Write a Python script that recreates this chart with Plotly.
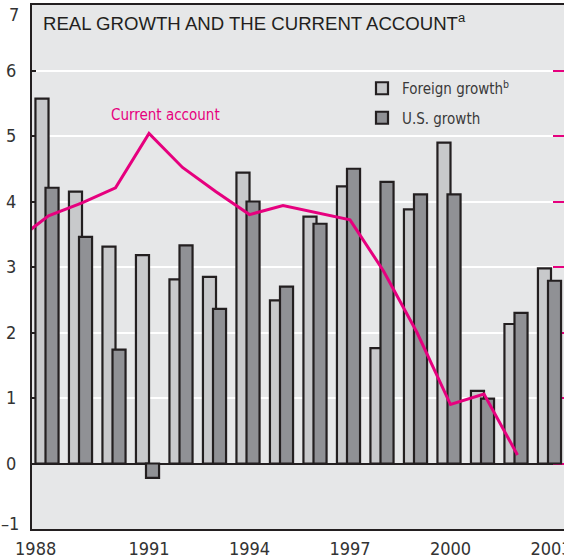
import plotly.graph_objects as go

years = list(range(1988, 2004))
foreign_growth = [5.57, 4.15, 3.31, 3.18, 2.81, 2.85, 4.44, 2.49, 3.77, 4.23, 1.76, 3.88, 4.90, 1.11, 2.13, 2.98]
us_growth = [4.21, 3.46, 1.74, -0.22, 3.33, 2.36, 4.00, 2.70, 3.66, 4.50, 4.30, 4.11, 4.11, 0.99, 2.30, 2.79]

# Current account (percent of GDP), plotted on the right-hand axis
ca_years = list(range(1987, 2003))
current_account = [-1.61, -1.22, -1.02, -0.79, 0.04, -0.48, -0.85, -1.20, -1.06, -1.17,
                   -1.28, -2.06, -3.00, -4.10, -3.94, -4.87]

tick_years = [1988, 1991, 1994, 1997, 2000, 2003]
tick_labels = ["1988", "1991", "1994", "1997", "2000", "2003"]
y_ticks = [-1, 0, 1, 2, 3, 4, 5, 6, 7]

INK = "#231f20"
MAGENTA = "#e6007e"
NARROW = "Liberation Sans Narrow, DejaVu Sans Condensed, Arial Narrow, sans-serif"
SANS = "Liberation Sans, Arial, Helvetica, sans-serif"
TICKFONT = dict(family=NARROW, size=18, color="#333333")

L, T, W, H = 32, 5, 532, 524  # plot area in pixels

fig = go.Figure()
fig.add_trace(go.Bar(
    x=years, y=foreign_growth, name="Foreign growth<sup>b</sup>",
    offset=-0.39, width=0.39,
    marker=dict(color="#c8c9cb", line=dict(color=INK, width=2.2)),
    legendgroup="f",
))
fig.add_trace(go.Bar(
    x=years, y=us_growth, name="U.S. growth",
    offset=-0.09, width=0.39,
    marker=dict(color="#909195", line=dict(color=INK, width=2.2)),
    legendgroup="u",
))
fig.add_trace(go.Scatter(
    x=ca_years, y=current_account, yaxis="y2", mode="lines",
    line=dict(color=MAGENTA, width=3), showlegend=False,
))

ticktext = [("1988" + "\u00a0" * 5) if t == "1988" else t for t in tick_labels]
y_min, y_max = y_ticks[0], y_ticks[-1]
# end labels (top and bottom) sit just inside the frame, as in the original
y_ticktext = ["" if v in (y_min, y_max) else str(v) for v in y_ticks]

annotations = [
    dict(text="REAL GROWTH AND THE CURRENT ACCOUNT<sup>a</sup>",
         xref="paper", yref="paper", x=(41 - L) / W, y=1 - (22 - T) / H,
         xanchor="left", yanchor="middle", showarrow=False,
         font=dict(family=SANS, size=18.6, color=INK)),
    dict(text="Current account",
         xref="paper", yref="paper", x=(165 - L) / W, y=1 - (115 - T) / H,
         xanchor="center", yanchor="middle", showarrow=False,
         font=dict(family=NARROW, size=15, color=MAGENTA)),
]
for v, shift in ((y_max, -9), (y_min, 6)):
    annotations.append(dict(
        text=f"{v}".replace("-", "\u2013"), xref="paper", yref="y", x=0, y=v,
        xanchor="right", yanchor="middle", xshift=-11, yshift=shift,
        showarrow=False, font=TICKFONT,
    ))

fig.update_layout(
    width=564, height=559,
    margin=dict(l=L, r=0, t=T, b=559 - T - H, autoexpand=False),
    paper_bgcolor="white",
    plot_bgcolor="#e6e7e8",
    barmode="overlay",
    showlegend=True,
    legend=dict(
        x=(362 - L) / W, y=1 - (72 - T) / H, xanchor="left", yanchor="top",
        bgcolor="rgba(0,0,0,0)", font=dict(family=NARROW, size=15, color="#3a3a3a"),
        traceorder="grouped", tracegroupgap=7, itemwidth=30,
    ),
    xaxis=dict(
        range=[1987.507, 2003.388], automargin=False,
        tickvals=tick_years, ticktext=ticktext,
        showgrid=False, zeroline=False,
        showline=True, mirror=True, linecolor=INK, linewidth=2,
        ticks="", ticklabelstandoff=2, ticklabeloverflow="allow",
        tickfont=TICKFONT,
    ),
    yaxis=dict(
        range=[y_min, y_max], automargin=False,
        tickvals=y_ticks, ticktext=y_ticktext,
        showgrid=True, gridcolor="white", gridwidth=2,
        zeroline=True, zerolinecolor=INK, zerolinewidth=2,
        showline=True, linecolor=INK, linewidth=2,
        ticks="inside", ticklen=4, tickcolor=INK, tickwidth=2,
        ticklabelstandoff=10,
        tickfont=TICKFONT,
    ),
    yaxis2=dict(
        range=[-6, 2], overlaying="y", side="right", automargin=False,
        tickvals=[-5, -4, -3, -2, -1, 0, 1],
        showgrid=False, zeroline=False, showline=False,
        ticks="inside", ticklen=11, tickcolor=MAGENTA, tickwidth=2,
        showticklabels=False, layer="below traces",
    ),
    annotations=annotations,
)

fig.write_html(
    "out.html",
    config={"displayModeBar": False},
    post_script="document.body.style.margin='0';document.body.style.overflow='hidden';",
)
